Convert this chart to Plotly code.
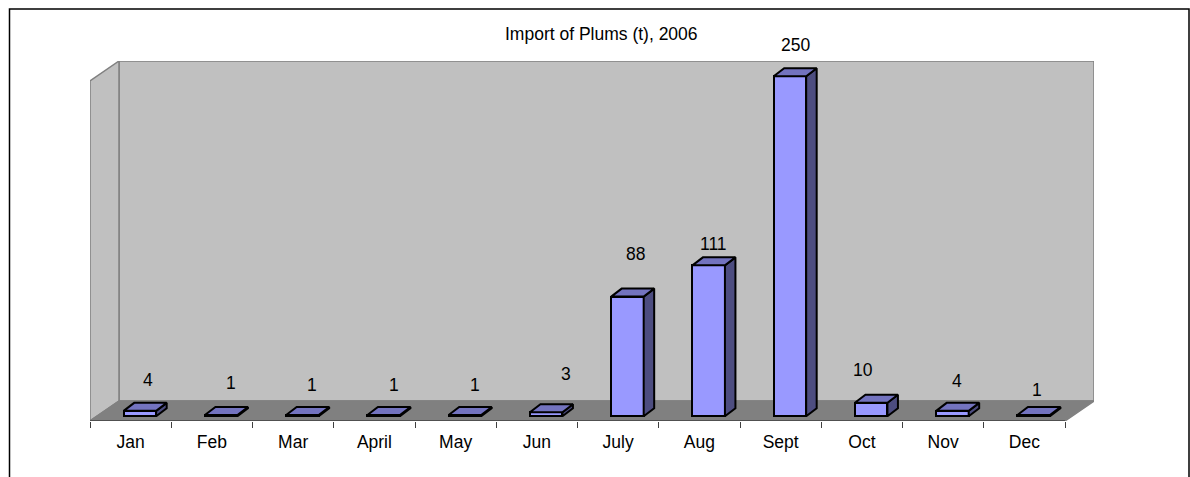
import plotly.graph_objects as go

# ---- data ----
months = ["Jan", "Feb", "Mar", "April", "May", "Jun", "July", "Aug", "Sept", "Oct", "Nov", "Dec"]
imports_t = [4, 1, 1, 1, 1, 3, 88, 111, 250, 10, 4, 1]
title_text = "Import of Plums (t), 2006"

# ---- layout constants (pixels in the 1190x477 page) ----
W, H = 1190, 477
PLOT_L, PLOT_R, PLOT_T, PLOT_B = 90, 1094, 61, 421
CAT_PX = 81.25                 # width of a category
Y_PX = 1.36                    # pixels per tonne
WALL_DX, WALL_DY = 29 / CAT_PX, 20 / Y_PX     # depth of the chart box
BAR_DX, BAR_DY = 10.5 / CAT_PX, 8 / Y_PX      # depth of a bar
BAR_W = 0.4
BAR_SHIFT = 9.3 / CAT_PX
BAR_BASE = 4.7 / Y_PX
# Where the data labels sit, relative to the top of each bar's front face
LABEL_XSHIFT = [8, 10, 10, 10, 10, 20, 8, 5, 6, -8, 5, 3]
LABEL_LIFT = [31, 32, 30, 30, 30, 38, 43, 21, 31, 33, 30, 25]

x0 = -0.5
xr = x0 + (PLOT_R - PLOT_L) / CAT_PX
yr = (PLOT_B - PLOT_T) / Y_PX
n = len(months)
xe = x0 + n
ytop = (PLOT_B - 81) / Y_PX

WALL = "#C0C0C0"
FLOOR = "#808080"
EDGE = "#808080"
FRONT = "#9999FF"
TOP = "#7373BF"
SIDE = "#4D4D80"
FONT = dict(family="Liberation Sans, Arial, sans-serif", size=17.5, color="#000000")

xc = [i + BAR_SHIFT for i in range(n)]

top_x, top_y, side_x, side_y = [], [], [], []
for c, v in zip(xc, imports_t):
    l, r = c - BAR_W / 2, c + BAR_W / 2
    b, t = BAR_BASE, BAR_BASE + v
    top_x += [l, r, r + BAR_DX, l + BAR_DX, l, None]
    top_y += [t, t, t + BAR_DY, t + BAR_DY, t, None]
    side_x += [r, r + BAR_DX, r + BAR_DX, r, r, None]
    side_y += [b, b + BAR_DY, t + BAR_DY, t, b, None]

fig = go.Figure()
fig.add_trace(go.Bar(
    x=xc, y=imports_t, base=BAR_BASE, width=BAR_W,
    marker=dict(color=FRONT, line=dict(color="#000000", width=2)),
    cliponaxis=False, hoverinfo="skip", showlegend=False,
))
fig.add_trace(go.Scatter(x=side_x, y=side_y, mode="lines", fill="toself", fillcolor=SIDE,
                         line=dict(color="#000000", width=2), cliponaxis=False,
                         hoverinfo="skip", showlegend=False))
fig.add_trace(go.Scatter(x=top_x, y=top_y, mode="lines", fill="toself", fillcolor=TOP,
                         line=dict(color="#000000", width=2), cliponaxis=False,
                         hoverinfo="skip", showlegend=False))


def poly(pts, fill, color=EDGE, width=1.5):
    path = "M " + " L ".join(f"{a},{b}" for a, b in pts) + " Z"
    return dict(type="path", path=path, xref="x", yref="y", fillcolor=fill,
                line=dict(color=color, width=width), layer="below")


def paper_x(px):
    return (px - PLOT_L) / (PLOT_R - PLOT_L)


def paper_y(py):
    return (PLOT_B - py) / (PLOT_B - PLOT_T)


shapes = [
    poly([(x0 + WALL_DX, WALL_DY), (xr, WALL_DY), (xr, yr), (x0 + WALL_DX, yr)], WALL),
    poly([(x0, 0), (x0, ytop), (x0 + WALL_DX, yr), (x0 + WALL_DX, WALL_DY)], WALL),
    poly([(x0, 0), (xe, 0), (xr, WALL_DY), (x0 + WALL_DX, WALL_DY)], FLOOR),
    dict(type="line", xref="x", yref="y", x0=x0, x1=xe, y0=0, y1=0,
         line=dict(color="#202020", width=1), layer="above"),
    # outer frame: open at the bottom of the page
    dict(type="path", xref="paper", yref="paper",
         path=(f"M {paper_x(9.5)},{paper_y(480)} L {paper_x(9.5)},{paper_y(9)} "
               f"L {paper_x(1189)},{paper_y(9)} L {paper_x(1189)},{paper_y(480)}"),
         line=dict(color="#000000", width=1.5), layer="below"),
]

annotations = [
    dict(x=paper_x(601), y=paper_y(34), xref="paper", yref="paper",
         text=title_text, showarrow=False, font=FONT, xanchor="center", yanchor="middle"),
]
for c, v, dx, lift in zip(xc, imports_t, LABEL_XSHIFT, LABEL_LIFT):
    annotations.append(dict(x=c, y=BAR_BASE + v, xref="x", yref="y", text=str(v),
                            showarrow=False, font=FONT, xanchor="center",
                            yanchor="middle", xshift=dx, yshift=lift))

fig.update_layout(
    width=W, height=H,
    margin=dict(l=PLOT_L, r=W - PLOT_R, t=PLOT_T, b=H - PLOT_B, pad=0),
    paper_bgcolor="#FFFFFF", plot_bgcolor="rgba(0,0,0,0)",
    font=FONT, showlegend=False, bargap=0,
    shapes=shapes, annotations=annotations,
    xaxis=dict(range=[x0, xr], tickmode="array", tickvals=list(range(n)), ticktext=months,
               ticks="outside", ticklen=5, tickcolor="rgba(0,0,0,0)", tickfont=FONT,
               showgrid=False, zeroline=False, showline=False,
               minor=dict(tickmode="array", tickvals=[x0 + i for i in range(n + 1)],
                          ticks="outside", ticklen=6, tickcolor="#404040", tickwidth=1,
                          showgrid=False)),
    yaxis=dict(range=[0, yr], showticklabels=False, ticks="", showgrid=False,
               zeroline=False, showline=False),
)

fig.write_html("out.html", include_plotlyjs=True, config=dict(displayModeBar=False),
               post_script="document.body.style.margin='0';document.documentElement.style.overflow='hidden';")
